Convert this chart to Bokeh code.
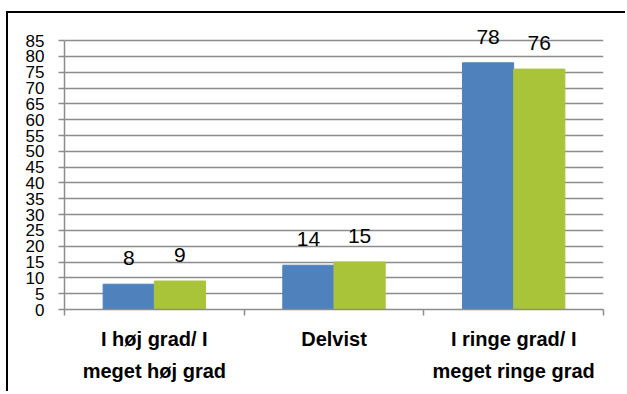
from bokeh.plotting import figure
from bokeh.models import (Range1d, FixedTicker, LabelSet, ColumnDataSource, LinearAxis)
from bokeh.transform import dodge
from bokeh.core.properties import value
from bokeh.embed import file_html
from bokeh.resources import INLINE

# ---- data ----
categories = ["I høj grad/ I meget høj grad", "Delvist",
              "I ringe grad/ I meget ringe grad"]
label_line1 = ["I høj grad/ I", "Delvist", "I ringe grad/ I"]
label_line2 = ["meget høj grad", "", "meget ringe grad"]
series_a = [8, 14, 78]
series_b = [9, 15, 76]
y_ticks = list(range(0, 86, 5))

BLUE = "#4F81BD"
GREEN = "#AAC43A"
GRID = "#8C8C8C"
FONT = "Liberation Sans"

n = len(categories)
centers = [i + 0.5 for i in range(n)]        # category slot centres
boundary_ticks = list(range(n + 1))          # ticks between categories

src = ColumnDataSource(dict(cat=categories, xc=centers, a=series_a, b=series_b,
                            la=[str(v) for v in series_a],
                            lb=[str(v) for v in series_b]))

p = figure(x_range=Range1d(0, n), y_range=Range1d(0, 92),
           width=619, height=380,
           output_backend="svg", toolbar_location=None,
           x_axis_location=None,
           min_border_left=56, min_border_right=24,
           min_border_top=5, min_border_bottom=84)
p.styles = {"margin-left": "6px", "margin-top": "11px",
            "border-left": "2px solid black", "border-top": "2px solid black"}
p.outline_line_color = None
p.background_fill_color = "white"
p.border_fill_color = "white"

# grid
p.xgrid.visible = False
p.ygrid.ticker = FixedTicker(ticks=y_ticks)
p.ygrid.grid_line_color = GRID
p.ygrid.grid_line_width = 1.5

# y axis
yax = p.yaxis[0]
yax.ticker = FixedTicker(ticks=y_ticks)
yax.bounds = (0, 85)
yax.major_label_standoff = 14
yax.major_label_text_font = FONT
yax.major_label_text_font_size = "17px"
yax.major_label_text_color = "black"
yax.axis_line_color = GRID
yax.axis_line_width = 1.5
yax.major_tick_line_color = GRID
yax.major_tick_line_width = 1.5
yax.major_tick_out = 6
yax.major_tick_in = 0
yax.minor_tick_line_color = None

# x axes: line 1 of the category labels (with boundary ticks as minor ticks),
# then line 2 of the labels on a second, bare axis
def label_axis(lines, standoff, with_line):
    ticks = [c for c, t in zip(centers, lines) if t]
    ax = LinearAxis(ticker=FixedTicker(ticks=ticks,
                                       minor_ticks=boundary_ticks if with_line else []),
                    major_label_overrides={c: t for c, t in zip(centers, lines) if t})
    ax.major_tick_line_color = None
    ax.major_tick_out = 0
    ax.major_tick_in = 0
    if with_line:
        ax.axis_line_color = GRID
        ax.axis_line_width = 1.5
        ax.minor_tick_line_color = GRID
        ax.minor_tick_line_width = 1.5
        ax.minor_tick_out = 6
        ax.minor_tick_in = 0
    else:
        ax.axis_line_color = None
        ax.minor_tick_line_color = None
    ax.major_label_standoff = standoff
    ax.major_label_text_font = FONT
    ax.major_label_text_font_style = "bold"
    ax.major_label_text_font_size = "20px"
    ax.major_label_text_color = "black"
    p.add_layout(ax, "below")

label_axis(label_line1, 12, True)
label_axis(label_line2, 7, False)

# bars
p.vbar(x=dodge("xc", -0.1425), top="a", width=0.285,
       source=src, fill_color=BLUE, line_color=BLUE)
p.vbar(x=dodge("xc", 0.1425), top="b", width=0.285,
       source=src, fill_color=GREEN, line_color=GREEN)

# value labels
for off, col, txt in [(-0.1425, "a", "la"), (0.1425, "b", "lb")]:
    p.add_layout(LabelSet(x=dodge("xc", off), y=col, text=txt,
                          y_offset=19, source=src, text_align="center",
                          text_baseline="alphabetic", text_font=value(FONT),
                          text_font_size=value("21px"), text_color="black"))

open("out.html", "w").write(file_html(p, INLINE))
